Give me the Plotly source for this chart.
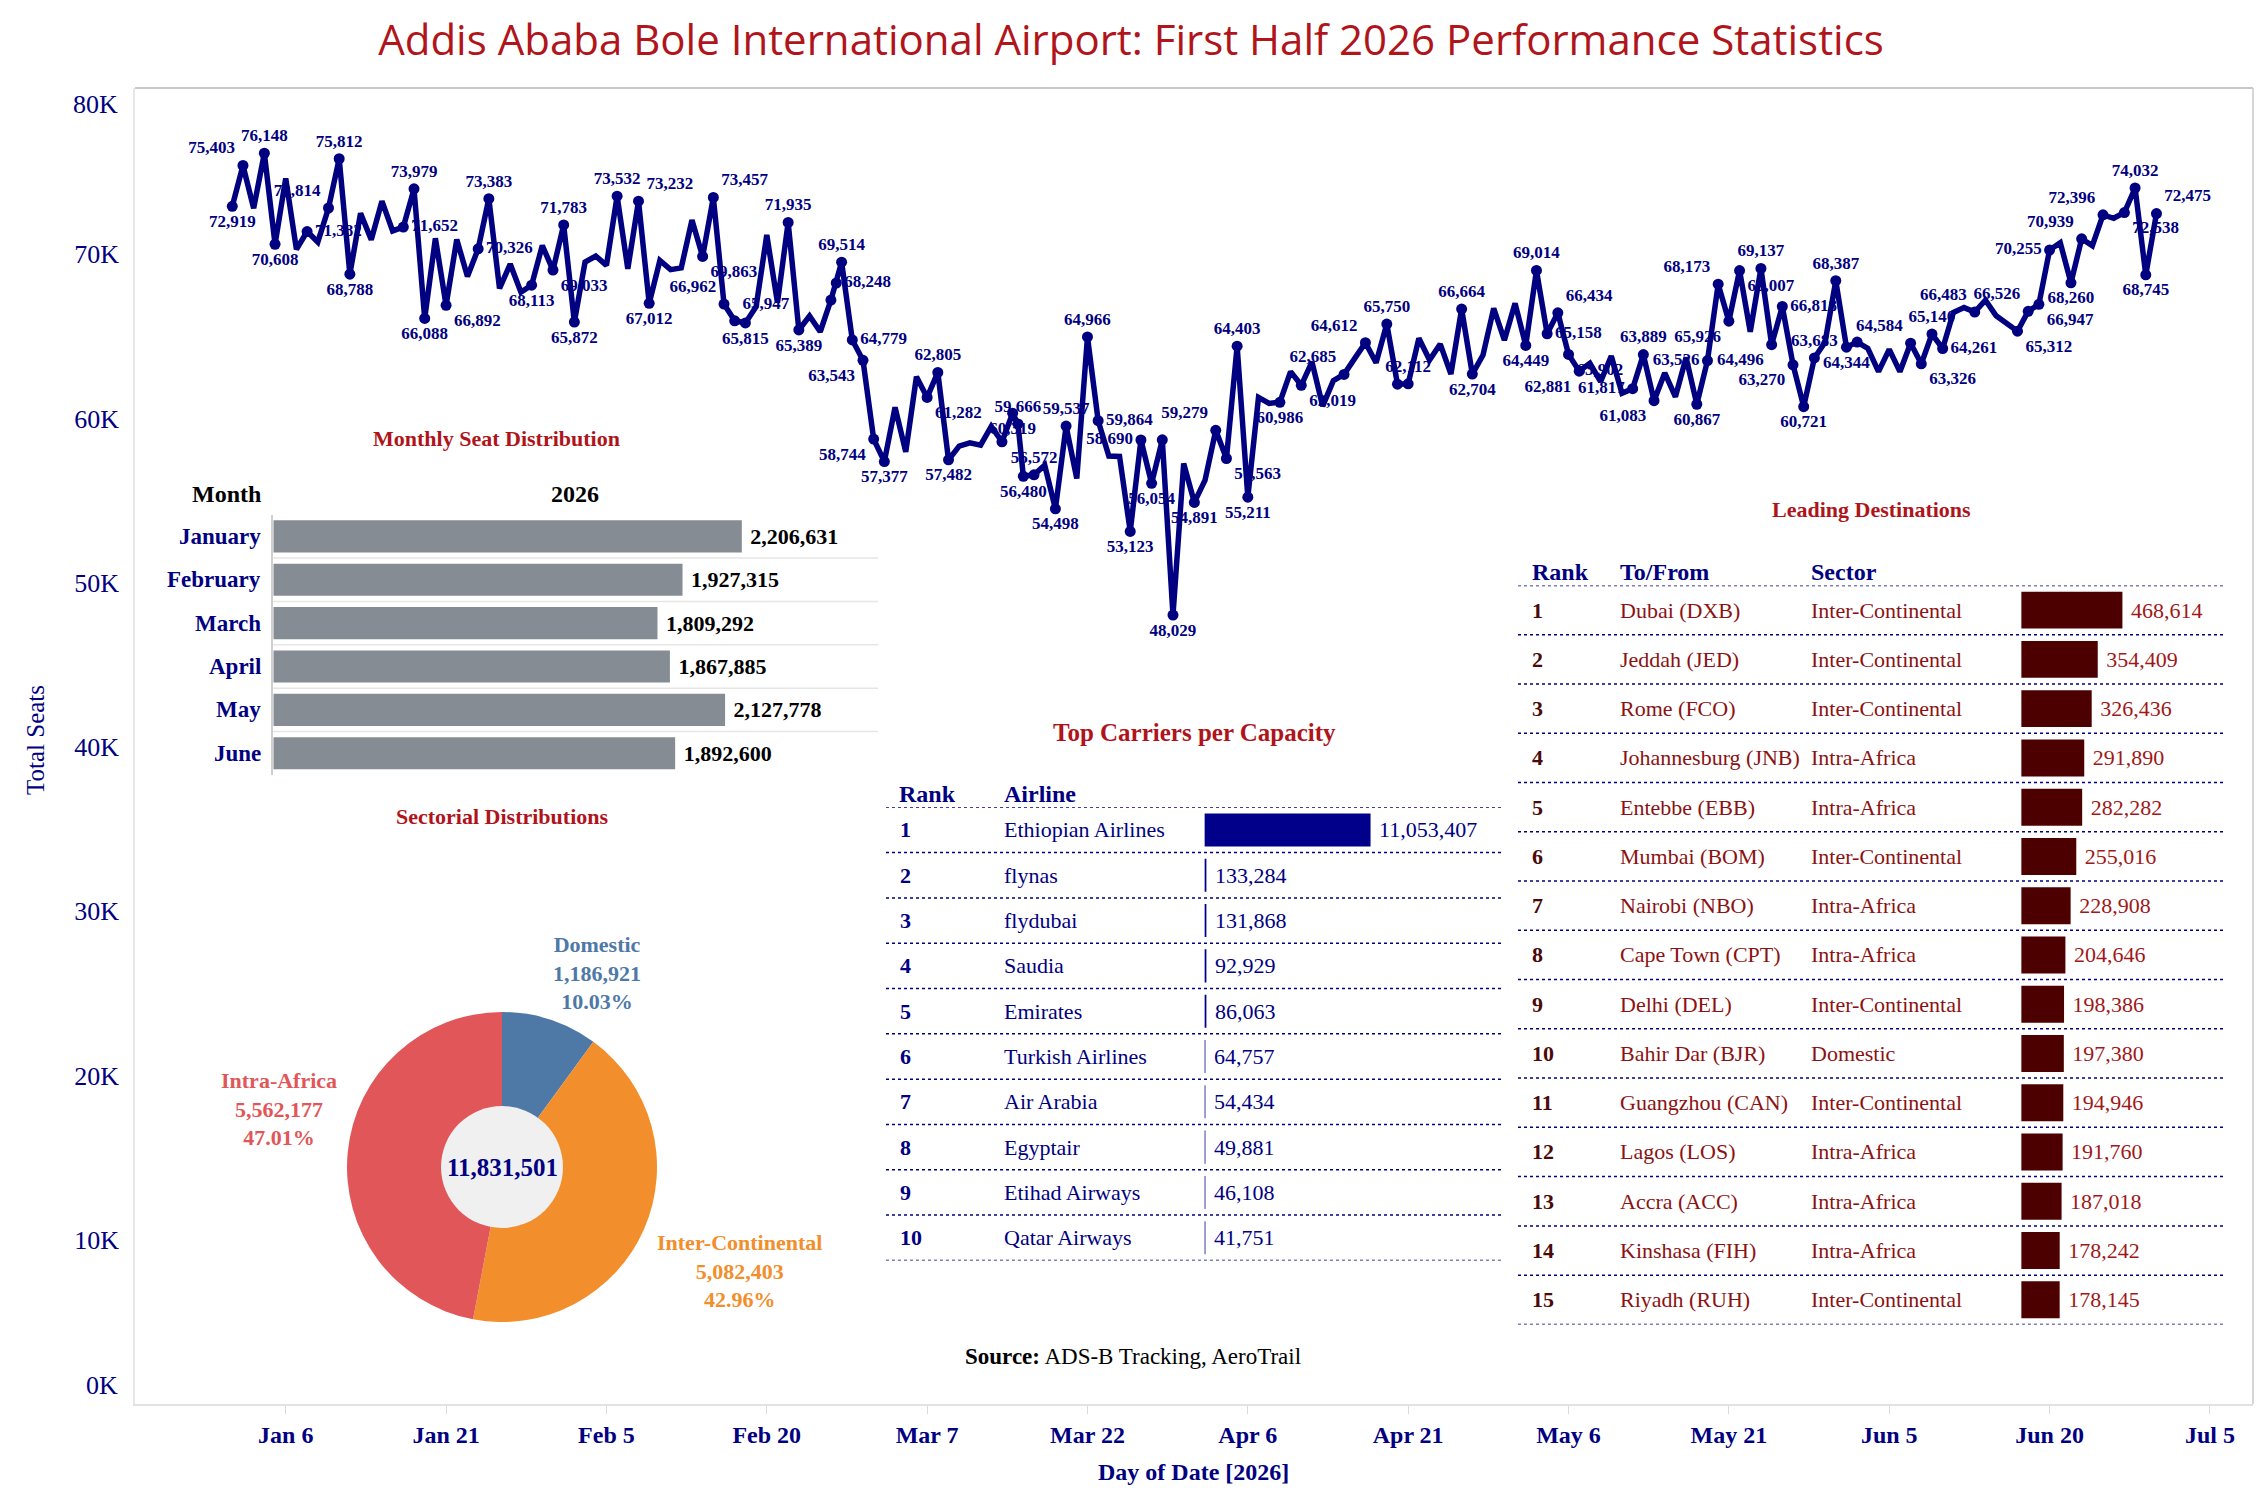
import numpy as np
import pandas as pd
import plotly.graph_objects as go

# ------------------------------------------------------------------ data
daily_start = "2026-01-01"
daily_seats = [
    72919, 75403, 72800, 76148, 70608, 74620, 70300, 71382, 70740, 72814,
    75812, 68788, 72490, 70880, 73230, 71420, 71652, 73979, 66088, 70970,
    66892, 70900, 68650, 70326, 73383, 67920, 69400, 67690, 68113, 70530,
    69033,
    71783, 65872, 69520, 69890, 69320, 73532, 69110, 73232, 67012, 69620,
    69060, 69170, 72080, 69863, 73457, 66962, 65947, 65815, 66800, 71170,
    67050, 71935, 65389, 66240, 65280, 67210, 69514, 64779,
    63543, 58744, 57377, 60680, 57970, 62540, 61282, 62805, 57482, 58320,
    58520, 58380, 59520, 58580, 60319, 56480, 56572, 57160, 54498, 59537,
    56350, 64966, 59864, 57710, 57690, 53123, 58690, 56054, 58700, 48029,
    57260,
    54891, 56250, 59279, 57563, 64403, 55211, 61280, 60920, 60986, 62850,
    62019, 63450, 60750, 62300, 62685, 63660, 64612, 63390, 65750, 62090,
    62112, 64880, 63560, 64530, 62700, 66664, 62704, 63860, 66700, 64770,
    67010, 64449, 69014, 65158, 66434, 63902, 62881, 63360, 62240, 63800,
    61540, 61817, 63889, 61083, 62770, 61320, 63710, 60867, 63526, 68173,
    65926, 69007, 65280, 69137, 64496, 66818, 63270, 60721, 63683, 64650,
    68387,
    64344, 64650, 64270, 62850, 64210, 62850, 64584, 63326, 65140, 64261,
    66450, 66750, 66483, 67200, 66250, 65800, 65312, 66526, 66947, 70255,
    70700, 68260, 70939, 70520, 72396, 72190, 72538, 74032, 68745, 72475,
]
extra_dates = ["2026-02-26 12:00", "2026-03-15 12:00"]
extra_seats = [68248, 59666]

label_dates = [
    "2026-01-01", "2026-01-02", "2026-01-04", "2026-01-05", "2026-01-08", "2026-01-10",
    "2026-01-11", "2026-01-12", "2026-01-17", "2026-01-18", "2026-01-19", "2026-01-21",
    "2026-01-24", "2026-01-25", "2026-01-29", "2026-01-31", "2026-02-01", "2026-02-02",
    "2026-02-06", "2026-02-08", "2026-02-09", "2026-02-14", "2026-02-15", "2026-02-16",
    "2026-02-17", "2026-02-18", "2026-02-22", "2026-02-23", "2026-02-26 12:00", "2026-02-27",
    "2026-02-28", "2026-03-01", "2026-03-02", "2026-03-03", "2026-03-07", "2026-03-08",
    "2026-03-09", "2026-03-15", "2026-03-15 12:00", "2026-03-16", "2026-03-17", "2026-03-19",
    "2026-03-20", "2026-03-22", "2026-03-23", "2026-03-26", "2026-03-27", "2026-03-28",
    "2026-03-30", "2026-04-01", "2026-04-03", "2026-04-04", "2026-04-05", "2026-04-06",
    "2026-04-09", "2026-04-11", "2026-04-15", "2026-04-17", "2026-04-19", "2026-04-21",
    "2026-04-26", "2026-04-27", "2026-05-02", "2026-05-03", "2026-05-04", "2026-05-05",
    "2026-05-06", "2026-05-07", "2026-05-12", "2026-05-13", "2026-05-14", "2026-05-18",
    "2026-05-19", "2026-05-20", "2026-05-21", "2026-05-22", "2026-05-24", "2026-05-25",
    "2026-05-26", "2026-05-27", "2026-05-28", "2026-05-29", "2026-05-31", "2026-06-01",
    "2026-06-07", "2026-06-08", "2026-06-09", "2026-06-10", "2026-06-13", "2026-06-17",
    "2026-06-18", "2026-06-19", "2026-06-20", "2026-06-22", "2026-06-23", "2026-06-25",
    "2026-06-27", "2026-06-28", "2026-06-29", "2026-06-30",
]
marker_only_dates = ["2026-02-26", "2026-03-14", "2026-03-29", "2026-04-20", "2026-06-02"]

months = ["January", "February", "March", "April", "May", "June"]
month_seats = [2206631, 1927315, 1809292, 1867885, 2127778, 1892600]

sector_names = ["Domestic", "Inter-Continental", "Intra-Africa"]
sector_seats = [1186921, 5082403, 5562177]

carriers = ["Ethiopian Airlines", "flynas", "flydubai", "Saudia", "Emirates",
            "Turkish Airlines", "Air Arabia", "Egyptair", "Etihad Airways", "Qatar Airways"]
carrier_seats = [11053407, 133284, 131868, 92929, 86063, 64757, 54434, 49881, 46108, 41751]

destinations = ["Dubai (DXB)", "Jeddah (JED)", "Rome (FCO)", "Johannesburg (JNB)", "Entebbe (EBB)",
                "Mumbai (BOM)", "Nairobi (NBO)", "Cape Town (CPT)", "Delhi (DEL)", "Bahir Dar (BJR)",
                "Guangzhou (CAN)", "Lagos (LOS)", "Accra (ACC)", "Kinshasa (FIH)", "Riyadh (RUH)"]
dest_sectors = ["Inter-Continental", "Inter-Continental", "Inter-Continental", "Intra-Africa",
                "Intra-Africa", "Inter-Continental", "Intra-Africa", "Intra-Africa",
                "Inter-Continental", "Domestic", "Inter-Continental", "Intra-Africa",
                "Intra-Africa", "Intra-Africa", "Inter-Continental"]
dest_seats = [468614, 354409, 326436, 291890, 282282, 255016, 228908, 204646,
              198386, 197380, 194946, 191760, 187018, 178242, 178145]

y_ticks = [0, 10000, 20000, 30000, 40000, 50000, 60000, 70000, 80000]

# ------------------------------------------------------------------ styling / geometry
W, H = 2267, 1502
ML, MR, MT, MB = 135, 14, 88, 98
PW, PH = W - ML - MR, H - MT - MB
SERIF = "Liberation Serif"
NAVY = "#000080"
RED_T = "#B0141B"
DRED = "#8B1212"
MAROON = "#4D0000"
Y_MAX = 80120
LABEL_SIZE = 17
MARKER = 11


def px(x):
    return (x - ML) / PW


def py(y):
    return (H - MB - y) / PH


def fnt(size, color, bold=False, family=SERIF):
    return dict(family=family, size=size, color=color, weight="bold" if bold else "normal")


def to_ts(strings):
    return pd.to_datetime(strings, format="mixed")


day0 = pd.Timestamp(daily_start)
x_lo = day0 - pd.Timedelta(days=9.1)
x_hi = day0 + pd.Timedelta(days=189.03)

# ------------------------------------------------------------------ line data frame
df = pd.DataFrame({"date": pd.date_range(daily_start, periods=len(daily_seats), freq="D"),
                   "seats": daily_seats})
df = pd.concat([df, pd.DataFrame({"date": to_ts(extra_dates), "seats": extra_seats})])
df = df.sort_values("date").reset_index(drop=True)

lab_set = set(to_ts(label_dates))
mk_set = set(to_ts(marker_only_dates))
vals = df["seats"].tolist()


# pixel helpers (only used for label placement)
def XP(t):
    return ML + (t - x_lo) / (x_hi - x_lo) * PW


def YP(v):
    return MT + (1 - v / Y_MAX) * PH


PX = np.array([XP(t) for t in df["date"]])
PY = np.array([YP(v) for v in vals])
samples = []
for i in range(len(PX) - 1):
    n = max(2, int(np.hypot(PX[i + 1] - PX[i], PY[i + 1] - PY[i]) / 1.5))
    samples.append(np.column_stack([np.linspace(PX[i], PX[i + 1], n),
                                    np.linspace(PY[i], PY[i + 1], n)]))
S = np.vstack(samples)

lab_idx = [i for i, d in enumerate(df["date"]) if d in lab_set]
mk_idx = [i for i, d in enumerate(df["date"]) if d in mk_set]
all_mk = lab_idx + mk_idx

r = MARKER / 2 + 1
th = LABEL_SIZE * 0.95


def box(pos, x, y, w):
    d = r * 0.75
    if pos == "top center":
        return (x - w / 2, y - r - th, x + w / 2, y - r)
    if pos == "bottom center":
        return (x - w / 2, y + r, x + w / 2, y + r + th)
    if pos == "top right":
        return (x + d, y - d - th, x + d + w, y - d)
    if pos == "top left":
        return (x - d - w, y - d - th, x - d, y - d)
    if pos == "bottom right":
        return (x + d, y + d, x + d + w, y + d + th)
    if pos == "bottom left":
        return (x - d - w, y + d, x - d, y + d + th)
    if pos == "middle right":
        return (x + r, y - th / 2, x + r + w, y + th / 2)
    return (x - r - w, y - th / 2, x - r, y + th / 2)


prefs = {
    "max": ["top center", "top right", "top left", "middle right", "middle left",
            "bottom right", "bottom left", "bottom center"],
    "min": ["bottom center", "bottom right", "bottom left", "middle right", "middle left",
            "top right", "top left", "top center"],
    "up": ["middle right", "bottom right", "top left", "middle left", "top center",
           "bottom center", "top right", "bottom left"],
    "down": ["middle right", "top right", "bottom left", "middle left", "top center",
             "bottom center", "top left", "bottom right"],
}


def kind(i):
    v = vals[i]
    prev = vals[i - 1] if i > 0 else None
    nxt = vals[i + 1] if i < len(vals) - 1 else None
    if all(n is None or v >= n for n in (prev, nxt)):
        return "max"
    if all(n is None or v <= n for n in (prev, nxt)):
        return "min"
    return "up" if nxt > v else "down"


def prominence(i):
    nb = [vals[j] for j in (i - 1, i + 1) if 0 <= j < len(vals)]
    return abs(vals[i] - sum(nb) / len(nb))


placed = []
pos_of = {}
for i in sorted(lab_idx, key=prominence, reverse=True):
    x, y = PX[i], PY[i]
    w = len(f"{vals[i]:,}") * LABEL_SIZE * 0.5 - LABEL_SIZE * 0.25
    best = None
    for rank, pos in enumerate(prefs[kind(i)]):
        b = box(pos, x, y, w)
        cost = rank * 18
        for q in placed:
            ow = min(b[2], q[2]) - max(b[0], q[0])
            oh = min(b[3], q[3]) - max(b[1], q[1])
            if ow > -1 and oh > -1:
                cost += 1500 + max(ow, 0) * max(oh, 0) * 2
        m = (S[:, 0] > b[0] - 2) & (S[:, 0] < b[2] + 2) & (S[:, 1] > b[1] - 2) & (S[:, 1] < b[3] + 2)
        cost += 5 * int(m.sum())
        for j in all_mk:
            if j != i and b[0] - r < PX[j] < b[2] + r and b[1] - r < PY[j] < b[3] + r:
                cost += 200
        if b[1] < MT:
            cost += 3000
        if best is None or cost < best[0]:
            best = (cost, pos, b)
    placed.append(best[2])
    pos_of[i] = best[1]

fig = go.Figure()
fig.add_trace(go.Scatter(x=df["date"], y=df["seats"], mode="lines",
                         line=dict(color=NAVY, width=5.5), hoverinfo="skip"))
fig.add_trace(go.Scatter(x=df["date"][mk_idx], y=df["seats"][mk_idx], mode="markers",
                         marker=dict(size=MARKER, color=NAVY), hoverinfo="skip"))
fig.add_trace(go.Scatter(x=df["date"][lab_idx], y=df["seats"][lab_idx], mode="markers+text",
                         text=[f"{vals[i]:,}" for i in lab_idx],
                         textposition=[pos_of[i] for i in lab_idx],
                         marker=dict(size=MARKER, color=NAVY),
                         textfont=fnt(LABEL_SIZE, NAVY, True), cliponaxis=False,
                         hoverinfo="skip"))

# ------------------------------------------------------------------ monthly bars
fig.add_trace(go.Bar(x=month_seats, y=months, orientation="h", xaxis="x2", yaxis="y2",
                     marker=dict(color="#858C93", line=dict(width=0)), width=0.74,
                     text=[f" {v:,}" for v in month_seats], textposition="outside",
                     textfont=fnt(22, "#000000", True), cliponaxis=False,
                     constraintext="none", hoverinfo="skip"))

# ------------------------------------------------------------------ carriers bars
fig.add_trace(go.Bar(x=carrier_seats, y=carriers, orientation="h", xaxis="x3", yaxis="y3",
                     marker=dict(color="#00008B", line=dict(width=0)), width=0.73,
                     text=[f" {v:,}" for v in carrier_seats], textposition="outside",
                     textfont=fnt(22, NAVY), cliponaxis=False,
                     constraintext="none", hoverinfo="skip"))

# ------------------------------------------------------------------ destinations bars
fig.add_trace(go.Bar(x=dest_seats, y=destinations, orientation="h", xaxis="x4", yaxis="y4",
                     marker=dict(color=MAROON, line=dict(width=0)), width=0.75,
                     text=[f" {v:,}" for v in dest_seats], textposition="outside",
                     textfont=fnt(22, "#A01818"), cliponaxis=False,
                     constraintext="none", hoverinfo="skip"))

# ------------------------------------------------------------------ donut
cx, cy, R, RH = 502, 1167, 155, 61
fig.add_trace(go.Pie(values=sector_seats, labels=sector_names, sort=False, direction="clockwise",
                     rotation=0, textinfo="none", hoverinfo="skip",
                     marker=dict(colors=["#4E79A7", "#F28E2B", "#E15759"], line=dict(width=0)),
                     domain=dict(x=[px(cx - R), px(cx + R)], y=[py(cy + R), py(cy - R)])))

total = sum(sector_seats)
shapes = [dict(type="circle", xref="paper", yref="paper", x0=px(cx - RH), x1=px(cx + RH),
               y0=py(cy + RH), y1=py(cy - RH), fillcolor="#F0F0F0", line=dict(width=0),
               layer="above")]

annotations = []


def ann(x, y, text, font, xanchor="center", yanchor="middle", xref="paper", yref="paper", **kw):
    annotations.append(dict(x=x, y=y, text=text, font=font, xanchor=xanchor, yanchor=yanchor,
                            xref=xref, yref=yref, showarrow=False, **kw))


ann(px(cx), py(cy), f"{total:,}", fnt(25, NAVY, True))
sector_pos = [(597, 973, "#4E79A7"), (739, 1271, "#F28E2B"), (279, 1109, "#E15759")]
for name, v, (lx, ly, col) in zip(sector_names, sector_seats, sector_pos):
    ann(px(lx), py(ly), f"{name}<br>{v:,}<br>{v / total * 100:.2f}%", fnt(22, col, True))

# ------------------------------------------------------------------ texts: titles, headers
ann(px(496), py(438), "Monthly Seat Distribution", fnt(22, RED_T, True))
ann(px(263), py(494), "Month", fnt(24, "#000000", True), xanchor="right")
ann(px(575), py(494), "2026", fnt(24, "#000000", True))
for m in months:
    ann(px(263), m, m, fnt(23, NAVY, True), xanchor="right", yref="y2")

ann(px(502), py(817), "Sectorial Distributions", fnt(22, RED_T, True))

ann(px(1194), py(732), "Top Carriers per Capacity", fnt(25, RED_T, True))
ann(px(897), py(794), "Rank", fnt(24, NAVY, True), xanchor="left")
ann(px(1002), py(794), "Airline", fnt(24, NAVY, True), xanchor="left")
for i, c in enumerate(carriers):
    ann(px(898), c, str(i + 1), fnt(22, NAVY, True), xanchor="left", yref="y3")
    ann(px(1002), c, c, fnt(22, NAVY), xanchor="left", yref="y3")

ann(px(1871), py(510), "Leading Destinations", fnt(22, RED_T, True))
ann(px(1530), py(572), "Rank", fnt(24, NAVY, True), xanchor="left")
ann(px(1618), py(572), "To/From", fnt(24, NAVY, True), xanchor="left")
ann(px(1809), py(572), "Sector", fnt(24, NAVY, True), xanchor="left")
for i, (d, s) in enumerate(zip(destinations, dest_sectors)):
    ann(px(1530), d, str(i + 1), fnt(22, "#4A0A0A", True), xanchor="left", yref="y4")
    ann(px(1618), d, d, fnt(22, DRED), xanchor="left", yref="y4")
    ann(px(1809), d, s, fnt(22, DRED), xanchor="left", yref="y4")

ann(px(1133), py(1356), "<b>Source:</b> ADS-B Tracking, AeroTrail", fnt(23, "#000000"))
ann(px(1193), py(1472), "Day of Date [2026]", fnt(24, NAVY, True))
ann(px(35), py(740), "Total Seats", fnt(25, NAVY), textangle=-90)
# end tick labels sit inside the axis span, as in the reference
ann(px(120), py(104), f"{y_ticks[-1] // 1000}K", fnt(26, NAVY), xanchor="right")
ann(px(120), py(1385), f"{y_ticks[0] // 1000}K", fnt(26, NAVY), xanchor="right")

# ------------------------------------------------------------------ separators / frame
for i in range(len(months) - 1):
    shapes.append(dict(type="line", xref="paper", yref="y2", x0=px(273), x1=px(878),
                       y0=i + 0.5, y1=i + 0.5, line=dict(color="#E6E6E6", width=1.5)))
for i in range(len(carriers) + 1):
    shapes.append(dict(type="line", xref="paper", yref="y3", x0=px(886), x1=px(1504),
                       y0=i - 0.5, y1=i - 0.5, line=dict(color=NAVY, width=1.5, dash="dot")))
for i in range(len(destinations) + 1):
    shapes.append(dict(type="line", xref="paper", yref="y4", x0=px(1518), x1=px(2224),
                       y0=i - 0.5, y1=i - 0.5, line=dict(color=NAVY, width=1.5, dash="dot")))
shapes.append(dict(type="line", xref="paper", yref="paper", x0=0, x1=1, y0=1, y1=1,
                   line=dict(color="#B5B5B5", width=1.5)))
shapes.append(dict(type="line", xref="paper", yref="paper", x0=1, x1=1, y0=0, y1=1,
                   line=dict(color="#C8C8C8", width=1.5)))

# ------------------------------------------------------------------ layout
hidden = dict(visible=False, showgrid=False, zeroline=False)
fig.update_layout(
    width=W, height=H,
    margin=dict(l=ML, r=MR, t=MT, b=MB, autoexpand=False),
    paper_bgcolor="white", plot_bgcolor="white", showlegend=False,
    title=dict(text="Addis Ababa Bole International Airport: First Half 2026 Performance Statistics",
               x=1131 / W, xanchor="center", y=1 - 40 / H, yanchor="middle", xref="container",
               yref="container", font=dict(family="Open Sans", size=42, color="#B0151B")),
    xaxis=dict(type="date", range=[x_lo, x_hi], tickmode="linear", tick0="2026-01-06",
               dtick=15 * 86400000, tickformat="%b %-d", tickfont=fnt(24, NAVY, True),
               ticks="outside", ticklen=8, tickcolor="#DADADA", showline=True,
               linecolor="#E2E2E2", linewidth=2, showgrid=False, zeroline=False),
    yaxis=dict(range=[0, Y_MAX], tickmode="array", tickvals=y_ticks,
               ticktext=["" if v in (y_ticks[0], y_ticks[-1]) else f"{v // 1000}K" for v in y_ticks],
               tickfont=fnt(26, NAVY), ticks="", ticklabelstandoff=9, showline=True,
               linecolor="#E8E8E8", linewidth=1.5, showgrid=False, zeroline=False),
    xaxis2=dict(domain=[px(273.3), px(878)], range=[0, 2848000], anchor="y2", **hidden),
    yaxis2=dict(domain=[py(774.9), py(514.7)], type="category", range=[len(months) - 0.5, -0.5],
                anchor="x2", showticklabels=False, ticks="", showgrid=False, zeroline=False,
                showline=True, linecolor="#D0D0D0", linewidth=1.5),
    xaxis3=dict(domain=[px(1204.4), px(1504)], range=[0, 19.93e6], anchor="y3", **hidden),
    yaxis3=dict(domain=[py(1260.4), py(807.3)], type="category", range=[len(carriers) - 0.5, -0.5],
                anchor="x3", visible=False, showgrid=False, zeroline=False),
    xaxis4=dict(domain=[px(2021.2), px(2224)], range=[0, 939000], anchor="y4", **hidden),
    yaxis4=dict(domain=[py(1324.4), py(585.5)], type="category",
                range=[len(destinations) - 0.5, -0.5], anchor="x4", visible=False,
                showgrid=False, zeroline=False),
    shapes=shapes,
    annotations=annotations,
)

fig.write_html("out.html")
